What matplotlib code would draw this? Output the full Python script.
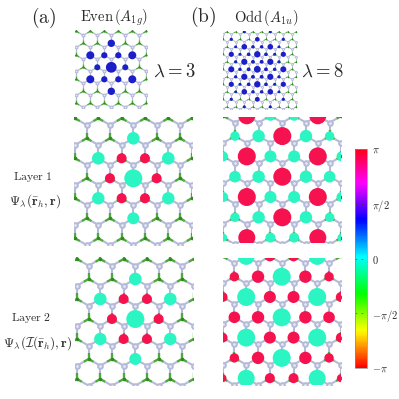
#!/usr/bin/env python3
"""Even and odd exciton wavefunctions on the honeycomb lattice, with phase colorbar."""

import numpy as np
import matplotlib
matplotlib.use('Agg')
import matplotlib.pyplot as plt
from matplotlib.cm import ScalarMappable
from matplotlib.collections import LineCollection
from matplotlib.colors import Normalize

plt.rcParams['mathtext.fontset'] = 'cm'

SIZE = 399.0
TEXT = '#2a2a2a'
GREEN = '#4fa83c'
GREY = '#b4bad8'
BLUE = '#1c1fc9'
CYAN = '#2cf5c4'
RED = '#f5124e'

# Even state sites: x in lattice constants, row in lattice rows
even_strong_x = [0, -1.5, 1.5, 0, -1.5, 1.5, 0]
even_strong_row = [-2, -1, -1, 0, 1, 1, 2]
even_strong_r = [6.3, 6.3, 6.3, 9.0, 6.2, 6.2, 6.0]
even_top_strong_r = [3.7, 4.0, 4.0, 5.4, 4.0, 4.0, 3.7]
even_weak_x = [-0.5, 0.5, -1, 1, -0.5, 0.5]
even_weak_row = [-1, -1, 0, 0, 1, 1]
even_weak_r = [5.0, 5.0, 5.0, 5.0, 5.0, 5.0]
even_top_weak_r = [3.1, 3.1, 3.0, 3.0, 3.1, 3.1]

# Odd state sites, large panels
odd_strong_x = [-1.5, 1.5, 0, -1.5, 1.5, 0, -1.5, 1.5, 0, -1.5, 1.5]
odd_strong_row = [-3, -3, -2, -1, -1, 0, 1, 1, 2, 3, 3]
odd_strong_r = [8.5, 8.5, 9.0, 9.0, 9.0, 9.0, 9.0, 9.0, 9.0, 8.5, 8.5]
odd_weak_x = [-0.5, 0.5, -2, -1, 1, 2, -2.5, -0.5, 0.5, 2.5, -2, -1, 1, 2,
              -2.5, -0.5, 0.5, 2.5, -2, -1, 1, 2, -2.5, -0.5, 0.5, 2.5]
odd_weak_row = [-3, -3, -2, -2, -2, -2, -1, -1, -1, -1, 0, 0, 0, 0,
                1, 1, 1, 1, 2, 2, 2, 2, 3, 3, 3, 3]
odd_weak_r = [5.0, 5.0, 4.7, 6.2, 6.2, 4.7, 5.0, 6.0, 6.0, 5.0,
              5.8, 6.2, 6.2, 5.8, 5.0, 6.0, 6.0, 5.0, 4.7, 6.2, 6.2, 4.7,
              4.0, 5.0, 5.0, 4.0]

# Odd state sites, small panel
odd_top_strong_x = [-1.5, 1.5, -3, 0, 3, -1.5, 1.5, -3, 0, 3, -1.5, 1.5, -3, 0, 3,
                    -1.5, 1.5, -3, 0, 3, -1.5, 1.5, -3, 0, 3, -1.5, 1.5]
odd_top_strong_row = [-5, -5, -4, -4, -4, -3, -3, -2, -2, -2, -1, -1, 0, 0, 0,
                      1, 1, 2, 2, 2, 3, 3, 4, 4, 4, 5, 5]
odd_top_strong_r = [1.5, 1.5, 1.6, 2.3, 1.6, 2.8, 2.8, 2.6, 3.2, 2.6, 3.1, 3.1, 3.0, 3.4, 3.0,
                    3.1, 3.1, 2.6, 3.2, 2.6, 2.8, 2.8, 1.6, 2.4, 1.6, 1.5, 1.5]
odd_top_weak_x = [-2.5, -0.5, 0.5, 2.5, -2, -1, 1, 2, -2.5, -0.5, 0.5, 2.5, -2, -1, 1, 2,
                  -2.5, -0.5, 0.5, 2.5, -2, -1, 1, 2, -2.5, -0.5, 0.5, 2.5]
odd_top_weak_row = [-3, -3, -3, -3, -2, -2, -2, -2, -1, -1, -1, -1, 0, 0, 0, 0,
                    1, 1, 1, 1, 2, 2, 2, 2, 3, 3, 3, 3]
odd_top_weak_r = [1.4, 1.7, 1.7, 1.4, 1.5, 1.8, 1.8, 1.5, 1.6, 1.9, 1.9, 1.6, 1.7, 1.9, 1.9, 1.7,
                  1.6, 1.9, 1.9, 1.6, 1.5, 1.8, 1.8, 1.5, 1.4, 1.7, 1.7, 1.4]

phase_ticks = [-np.pi, -np.pi / 2, 0, np.pi / 2, np.pi]
phase_labels = [r'$-\pi$', r'$-\pi/2$', r'$0$', r'$\pi/2$', r'$\pi$']


def px_axes(fig, left, top, right, bottom):
    """Axes from pixel edges, y counted from the top of the picture."""
    return fig.add_axes([left / SIZE, 1 - bottom / SIZE,
                         (right - left) / SIZE, (bottom - top) / SIZE])


def draw_lattice(ax, scale):
    xlo, xhi = ax.get_xlim()
    yhi, ylo = ax.get_ylim()
    green_x, green_y, grey_x, grey_y, bonds_green, bonds_grey = [], [], [], [], [], []
    for row in range(int(ylo) - 2, int(yhi) + 3):
        shift = 0.5 * (row % 2)
        for col in range(int(xlo) - 2, int(xhi) + 3):
            gx = col + shift
            green_x.append(gx)
            green_y.append(row)
            grey_x.append(gx + 0.5)
            grey_y.append(row + 1 / 3)
            # three bonds of each green atom, green only close to the atom
            for nx, ny in [(gx - 0.5, row + 1 / 3), (gx + 0.5, row + 1 / 3), (gx, row - 2 / 3)]:
                mx, my = gx + 0.42 * (nx - gx), row + 0.42 * (ny - row)
                bonds_green.append([(gx, row), (mx, my)])
                bonds_grey.append([(mx, my), (nx, ny)])
    ax.add_collection(LineCollection(bonds_grey, colors=GREY, linewidths=1.5 * scale, zorder=1))
    ax.add_collection(LineCollection(bonds_green, colors=GREEN, linewidths=1.7 * scale, zorder=1))
    ax.scatter(green_x, green_y, s=(2.6 * scale) ** 2, c='#2f8a20', linewidths=0, zorder=1.5)
    return grey_x, grey_y


def draw_panel(fig, box, center, a_px, row_px, blobs, scale=1.0):
    left, top, right, bottom = box
    ax = px_axes(fig, left, top, right, bottom)
    ax.set_xlim((left - center[0]) / a_px, (right - center[0]) / a_px)
    ax.set_ylim((bottom - center[1]) / row_px, (top - center[1]) / row_px)
    ax.axis('off')
    grey_x, grey_y = draw_lattice(ax, scale)
    for xs, rows, radii, color in blobs:
        sizes = (2 * np.array(radii) * 0.72) ** 2
        ax.scatter(xs, rows, s=sizes, c=color, linewidths=0, zorder=2)
    ax.scatter(grey_x, grey_y, s=(3.4 * scale) ** 2, c='#e6e8f4', edgecolors=GREY,
               linewidths=1.4 * scale, zorder=3)


fig = plt.figure(figsize=(3.99, 3.99), dpi=100)

draw_panel(fig, (75, 30, 147, 108), (111.3, 67.3), 14.0, 12.0,
           [(even_strong_x, even_strong_row, even_top_strong_r, BLUE),
            (even_weak_x, even_weak_row, even_top_weak_r, BLUE)], scale=0.6)
draw_panel(fig, (223, 31, 297, 109), (257.3, 69.3), 8.67, 7.5,
           [(odd_top_strong_x, odd_top_strong_row, odd_top_strong_r, BLUE),
            (odd_top_weak_x, odd_top_weak_row, odd_top_weak_r, BLUE)], scale=0.42)

draw_panel(fig, (74.3, 117, 192.3, 245), (133.3, 178.3), 23.33, 20.0,
           [(even_strong_x, even_strong_row, even_strong_r, CYAN),
            (even_weak_x, even_weak_row, even_weak_r, RED)])
draw_panel(fig, (75.3, 257, 193.3, 385), (135.3, 319.0), 23.33, 20.0,
           [(even_strong_x, even_strong_row, even_strong_r, CYAN),
            (even_weak_x, even_weak_row, even_weak_r, RED)])
draw_panel(fig, (223, 117, 341, 243), (282.3, 176.7), 23.67, 20.3,
           [(odd_strong_x, odd_strong_row, odd_strong_r, RED),
            (odd_weak_x, odd_weak_row, odd_weak_r, CYAN)])
draw_panel(fig, (223, 258, 341, 385), (281.7, 317.3), 23.67, 20.3,
           [(odd_strong_x, odd_strong_row, odd_strong_r, CYAN),
            (odd_weak_x, odd_weak_row, odd_weak_r, RED)])

# Phase colorbar
cax = px_axes(fig, 355, 149.3, 367, 368)
cbar = fig.colorbar(ScalarMappable(Normalize(-np.pi, np.pi), 'hsv'), cax=cax, ticks=phase_ticks)
cbar.ax.set_yticklabels(phase_labels, fontsize=7.5, color=TEXT)
cbar.ax.tick_params(length=0, pad=3.5)
cbar.outline.set_edgecolor('#888888')
cbar.outline.set_linewidth(0.5)
for tick in phase_ticks[1:-1]:
    cbar.ax.plot([0.0, 1.0], [tick, tick], color='#333333', lw=0.4, ls=(0, (3, 8)))

# Text is placed in figure fractions from pixel positions
labels = [
    (44, 18, r'$\mathrm{(a)}$', 14),
    (203, 17, r'$\mathrm{(b)}$', 14),
    (114, 18, r'$\mathrm{Even}\,(A_{1g})$', 10.5),
    (266, 18, r'$\mathrm{Odd}\,(A_{1u})$', 10.5),
    (174, 71, r'$\lambda=3$', 13.5),
    (322, 71, r'$\lambda=8$', 13.5),
    (33, 177, r'$\mathrm{Layer\ 1}$', 8.5),
    (35, 201, r'$\Psi_\lambda(\bar{\mathbf{r}}_h,\mathbf{r})$', 9.5),
    (31, 318, r'$\mathrm{Layer\ 2}$', 8.5),
    (38, 343, r'$\Psi_\lambda(\mathcal{I}(\bar{\mathbf{r}}_h),\mathbf{r})$', 9.5),
]
for x, y, s, size in labels:
    fig.text(x / SIZE, 1 - y / SIZE, s, ha='center', va='center', fontsize=size, color=TEXT)

fig.savefig('out.png', dpi=100)
